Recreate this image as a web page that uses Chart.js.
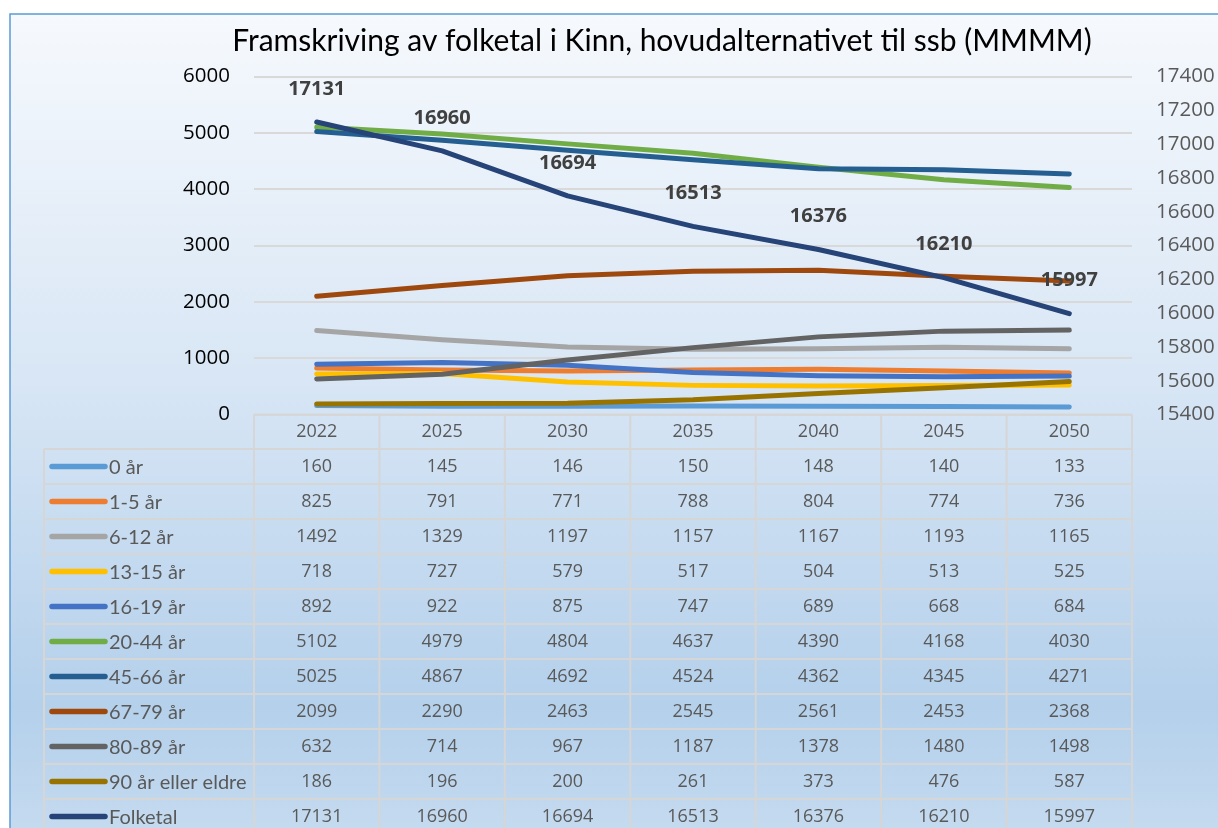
<!DOCTYPE html>
<html>
<head>
<meta charset="utf-8">
<script src="https://cdn.jsdelivr.net/npm/chart.js@4.4.1/dist/chart.umd.min.js"></script>
<style>
  body { margin: 0; background: #fff; }
  #wrap { width: 1218px; height: 828px; position: relative; }
</style>
</head>
<body>
<div id="wrap"><canvas id="chart"></canvas></div>
<script>
// Framskriving av folketal i Kinn

const years = ['2022', '2025', '2030', '2035', '2040', '2045', '2050'];

const age0 = [160, 145, 146, 150, 148, 140, 133];
const age1to5 = [825, 791, 771, 788, 804, 774, 736];
const age6to12 = [1492, 1329, 1197, 1157, 1167, 1193, 1165];
const age13to15 = [718, 727, 579, 517, 504, 513, 525];
const age16to19 = [892, 922, 875, 747, 689, 668, 684];
const age20to44 = [5102, 4979, 4804, 4637, 4390, 4168, 4030];
const age45to66 = [5025, 4867, 4692, 4524, 4362, 4345, 4271];
const age67to79 = [2099, 2290, 2463, 2545, 2561, 2453, 2368];
const age80to89 = [632, 714, 967, 1187, 1378, 1480, 1498];
const age90plus = [186, 196, 200, 261, 373, 476, 587];
const folketal = [17131, 16960, 16694, 16513, 16376, 16210, 15997];

const leftTicks = [0, 6000, 1000];       // min, max, step
const rightTicks = [15400, 17400, 200];

const seriesNames = ['0 år', '1-5 år', '6-12 år', '13-15 år', '16-19 år', '20-44 år',
    '45-66 år', '67-79 år', '80-89 år', '90 år eller eldre', 'Folketal'];
const seriesData = [age0, age1to5, age6to12, age13to15, age16to19, age20to44,
    age45to66, age67to79, age80to89, age90plus, folketal];
const seriesColors = ['#5b9bd5', '#ed7d31', '#a5a5a5', '#ffc000', '#4472c4', '#70ad47',
    '#255e91', '#9e480e', '#636363', '#997300', '#264478'];

const FONT = 'Lato, "Open Sans", sans-serif';
const NUM_FONT = '"Open Sans", Lato, sans-serif'; // wider digits, closer to Calibri
const TEXT_GRAY = '#595959';
const TABLE_LINE = '#d6d6d6';

// build datasets, later series are drawn on top (like Excel)
const datasets = seriesData.map((data, i) => ({
    label: seriesNames[i],
    data: data,
    borderColor: seriesColors[i],
    backgroundColor: seriesColors[i],
    borderWidth: 5,
    borderCapStyle: 'round',
    borderJoinStyle: 'round',
    pointRadius: 0,
    tension: 0,
    fill: false,
    yAxisID: seriesNames[i] === 'Folketal' ? 'y1' : 'y',
    order: seriesData.length - i
}));

// background, border, title, data labels and the data table
const excelLook = {
    id: 'excelLook',
    beforeDraw(chart) {
        const ctx = chart.ctx;
        const g = ctx.createLinearGradient(0, 14, 0, 828);
        g.addColorStop(0, '#f6f9fd');
        g.addColorStop(0.45, '#d8e6f5');
        g.addColorStop(0.85, '#b4d0eb');
        g.addColorStop(1, '#c4daef');
        ctx.save();
        ctx.fillStyle = g;
        ctx.fillRect(10, 14, 1240, 840);
        ctx.strokeStyle = '#5b9bd5';
        ctx.lineWidth = 1.5;
        ctx.strokeRect(10, 14, 1240, 840);
        ctx.restore();
    },
    afterDatasetsDraw(chart) {
        const ctx = chart.ctx;
        const x = chart.scales.x;
        const y1 = chart.scales.y1;
        ctx.save();
        ctx.font = 'bold 20px ' + NUM_FONT;
        ctx.fillStyle = '#404040';
        ctx.textAlign = 'center';
        ctx.textBaseline = 'middle';
        folketal.forEach((v, i) => {
            ctx.fillText(String(v), x.getPixelForValue(i), y1.getPixelForValue(v) - 33);
        });
        ctx.restore();
    },
    afterDraw(chart) {
        const ctx = chart.ctx;
        const x = chart.scales.x;
        const area = chart.chartArea;
        const step = x.getPixelForValue(1) - x.getPixelForValue(0);
        const left = area.left, right = area.right;
        const top = area.bottom;
        const headH = 34.5, rowH = 35;
        const legendLeft = 44;
        const bottom = top + headH + rowH * seriesNames.length;

        ctx.save();
        // title
        ctx.font = '30px ' + FONT;
        ctx.fillStyle = '#000';
        ctx.textAlign = 'center';
        ctx.textBaseline = 'middle';
        ctx.fillText('Framskriving av folketal i Kinn, hovudalternativet til ssb (MMMM)', 662, 41);

        // table grid
        ctx.strokeStyle = TABLE_LINE;
        ctx.lineWidth = 2;
        ctx.beginPath();
        ctx.moveTo(left, top);
        ctx.lineTo(right, top);
        for (let r = 0; r <= seriesNames.length; r++) {
            const yy = top + headH + r * rowH;
            ctx.moveTo(legendLeft, yy);
            ctx.lineTo(right, yy);
        }
        ctx.moveTo(legendLeft, top + headH);
        ctx.lineTo(legendLeft, bottom);
        for (let c = 0; c <= years.length; c++) {
            const xx = left + c * step;
            ctx.moveTo(xx, top);
            ctx.lineTo(xx, bottom);
        }
        ctx.stroke();

        // header years
        ctx.font = '18px ' + NUM_FONT;
        ctx.fillStyle = TEXT_GRAY;
        years.forEach((yr, i) => {
            ctx.fillText(yr, x.getPixelForValue(i), top + headH / 2);
        });

        // rows
        seriesNames.forEach((name, r) => {
            const cy = top + headH + r * rowH + rowH / 2;
            ctx.strokeStyle = seriesColors[r];
            ctx.lineWidth = 5.5;
            ctx.lineCap = 'round';
            ctx.beginPath();
            ctx.moveTo(52, cy);
            ctx.lineTo(105, cy);
            ctx.stroke();
            ctx.textAlign = 'left';
            ctx.fillStyle = TEXT_GRAY;
            ctx.font = '20px ' + FONT;
            ctx.fillText(name, 109, cy + 1);
            ctx.textAlign = 'center';
            ctx.font = '18px ' + NUM_FONT;
            seriesData[r].forEach((v, i) => {
                ctx.fillText(String(v), x.getPixelForValue(i), cy);
            });
        });
        ctx.restore();
    }
};

const ctx = document.getElementById('chart').getContext('2d');
const chart = new Chart(ctx, {
    type: 'line',
    data: { labels: years, datasets: datasets },
    options: {
        responsive: true,
        maintainAspectRatio: false,
        animation: false,
        layout: { padding: { top: 76.5, bottom: 828 - 414.5, left: 0, right: 0 } },
        plugins: {
            legend: { display: false },
            title: { display: false },
            tooltip: { enabled: false }
        },
        scales: {
            x: {
                display: false,
                offset: true
            },
            y: {
                position: 'left',
                min: leftTicks[0],
                max: leftTicks[1],
                ticks: {
                    stepSize: leftTicks[2],
                    padding: 24,
                    color: '#000',
                    font: { family: NUM_FONT, size: 20.5 },
                    callback: v => String(v)
                },
                grid: { color: '#d9d9d9', lineWidth: 2, drawTicks: false },
                border: { display: false },
                afterFit(scale) { scale.width = 254; }
            },
            y1: {
                position: 'right',
                min: rightTicks[0],
                max: rightTicks[1],
                ticks: {
                    stepSize: rightTicks[2],
                    padding: 24,
                    color: TEXT_GRAY,
                    font: { family: NUM_FONT, size: 20.5 },
                    callback: v => String(v)
                },
                grid: { drawOnChartArea: false, drawTicks: false },
                border: { display: false },
                afterFit(scale) { scale.width = 1218 - 1132; }
            }
        }
    },
    plugins: [excelLook]
});
</script>
</body>
</html>
